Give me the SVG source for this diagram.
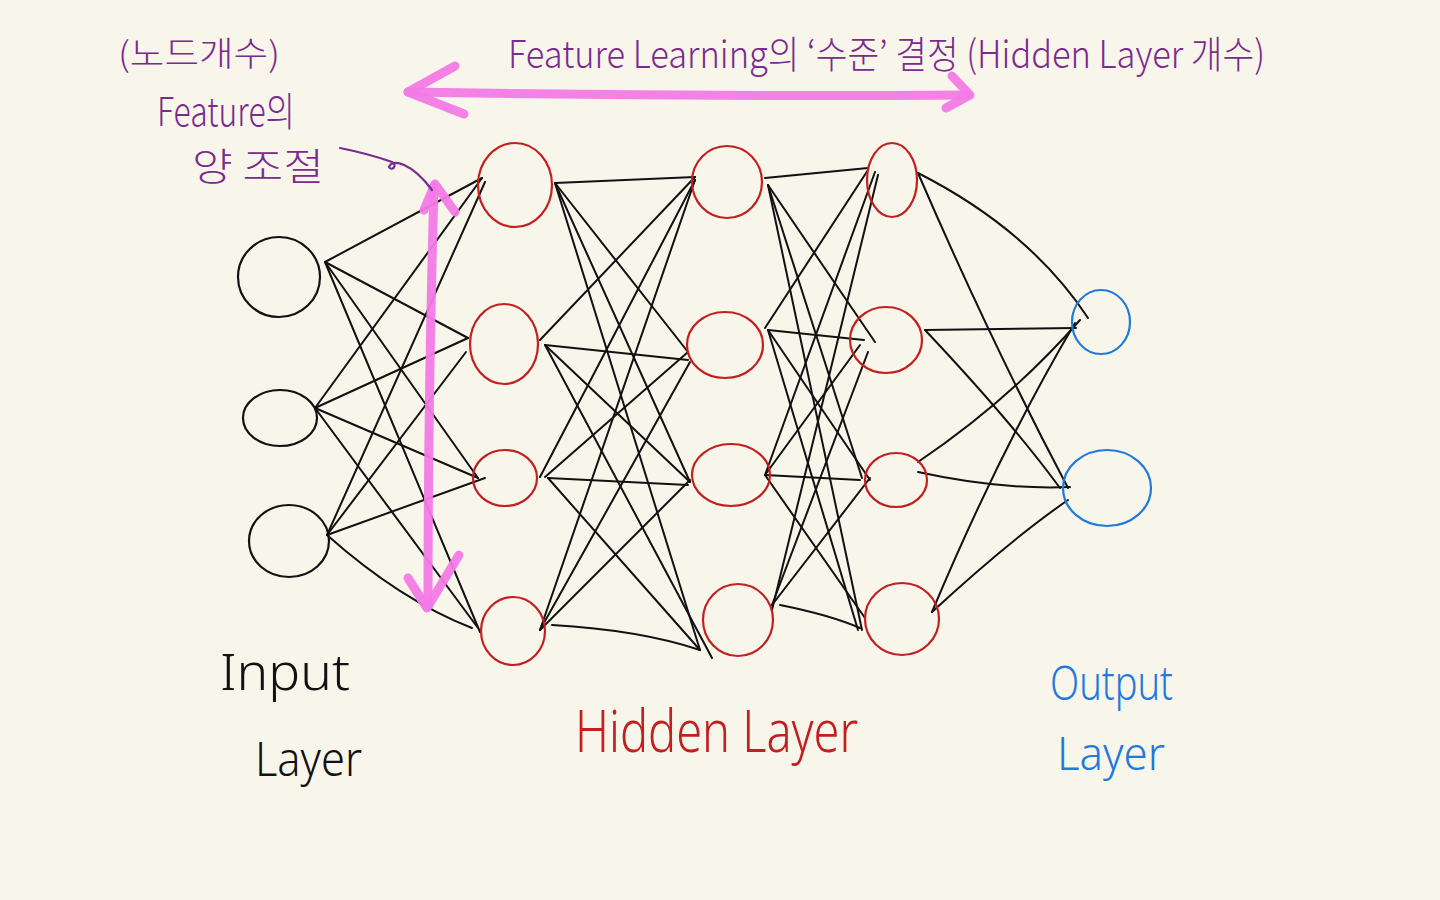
<svg xmlns="http://www.w3.org/2000/svg" width="1440" height="900" viewBox="0 0 1440 900">
<style>
.bg{fill:#f8f5eb}
.edge{fill:none;stroke:#111;stroke-width:2;stroke-linecap:round}
.in{fill:none;stroke:#111;stroke-width:2.2}
.hid{fill:none;stroke:#c21f1f;stroke-width:2.2}
.out{fill:none;stroke:#1f7ad9;stroke-width:2.2}
.pink{fill:none;stroke:#f27ae6;stroke-width:9;stroke-linecap:round;stroke-linejoin:round;opacity:0.95}
.note{fill:#7b2a8e;font-family:"Noto Sans CJK KR","Noto Sans",sans-serif;font-weight:300}
.lblk{fill:#111;font-family:"Noto Sans","Liberation Sans",sans-serif;font-weight:300}
.lred{fill:#c21f1f;font-family:"Noto Sans","Liberation Sans",sans-serif;font-weight:300}
.lblue{fill:#1f7ad9;font-family:"Noto Sans","Liberation Sans",sans-serif;font-weight:300}
</style>
<rect class="bg" x="0" y="0" width="1440" height="900"/>

<g id="connectors">
<path class="edge" d="M325,262 L482,178"/>
<path class="edge" d="M325,262 L468,338"/>
<path class="edge" d="M325,262 L478,478"/>
<path class="edge" d="M325,262 L480,632"/>
<path class="edge" d="M315,408 L482,178"/>
<path class="edge" d="M315,408 L468,338"/>
<path class="edge" d="M315,408 L478,478"/>
<path class="edge" d="M315,408 L478,628"/>
<path class="edge" d="M327,535 L485,182"/>
<path class="edge" d="M327,535 L466,352"/>
<path class="edge" d="M327,535 L485,478"/>
<path class="edge" d="M327,535 Q400,600 472,628"/>
<path class="edge" d="M555,183 L695,177"/>
<path class="edge" d="M555,183 L688,352"/>
<path class="edge" d="M555,183 L690,482"/>
<path class="edge" d="M555,183 L700,650"/>
<path class="edge" d="M540,340 L695,177"/>
<path class="edge" d="M545,345 L688,360"/>
<path class="edge" d="M545,345 L690,482"/>
<path class="edge" d="M545,345 L712,658"/>
<path class="edge" d="M540,477 L695,180"/>
<path class="edge" d="M545,477 L688,352"/>
<path class="edge" d="M548,478 L688,485"/>
<path class="edge" d="M548,478 L700,650"/>
<path class="edge" d="M540,630 L695,180"/>
<path class="edge" d="M540,630 L690,362"/>
<path class="edge" d="M540,630 L690,480"/>
<path class="edge" d="M552,625 Q640,630 700,650"/>
<path class="edge" d="M765,178 L868,168"/>
<path class="edge" d="M768,185 L875,342"/>
<path class="edge" d="M768,185 L862,478"/>
<path class="edge" d="M768,185 L862,630"/>
<path class="edge" d="M765,328 L868,170"/>
<path class="edge" d="M768,330 L864,340"/>
<path class="edge" d="M768,330 L870,480"/>
<path class="edge" d="M768,330 L858,630"/>
<path class="edge" d="M765,475 L875,172"/>
<path class="edge" d="M765,475 L860,345"/>
<path class="edge" d="M765,475 L860,480"/>
<path class="edge" d="M765,475 L865,618"/>
<path class="edge" d="M772,610 L878,175"/>
<path class="edge" d="M772,605 L868,352"/>
<path class="edge" d="M772,605 L870,478"/>
<path class="edge" d="M780,605 Q830,615 860,628"/>
<path class="edge" d="M918,173 Q1030,230 1088,318"/>
<path class="edge" d="M918,173 Q990,340 1068,488"/>
<path class="edge" d="M925,330 L1076,328"/>
<path class="edge" d="M925,330 Q1010,420 1060,488"/>
<path class="edge" d="M918,462 Q1010,400 1080,320"/>
<path class="edge" d="M918,472 Q1000,490 1070,487"/>
<path class="edge" d="M932,612 Q1000,450 1075,323"/>
<path class="edge" d="M932,612 Q1010,540 1068,500"/>
</g>

<g id="input-1"><ellipse class="in" cx="279" cy="277" rx="41" ry="40"/></g>
<g id="input-2"><ellipse class="in" cx="280" cy="418" rx="37" ry="28"/></g>
<g id="input-3"><ellipse class="in" cx="289" cy="541" rx="40" ry="36"/></g>

<g id="hidden1-1"><ellipse class="hid" cx="515" cy="185" rx="37" ry="42"/></g>
<g id="hidden1-2"><ellipse class="hid" cx="504" cy="344" rx="34" ry="40"/></g>
<g id="hidden1-3"><ellipse class="hid" cx="505" cy="478" rx="32" ry="28"/></g>
<g id="hidden1-4"><ellipse class="hid" cx="513" cy="631" rx="32" ry="34"/></g>

<g id="hidden2-1"><ellipse class="hid" cx="727" cy="182" rx="35" ry="36"/></g>
<g id="hidden2-2"><ellipse class="hid" cx="725" cy="345" rx="38" ry="33"/></g>
<g id="hidden2-3"><ellipse class="hid" cx="731" cy="475" rx="39" ry="31"/></g>
<g id="hidden2-4"><ellipse class="hid" cx="738" cy="620" rx="35" ry="36"/></g>

<g id="hidden3-1"><ellipse class="hid" cx="892" cy="180" rx="25" ry="37"/></g>
<g id="hidden3-2"><ellipse class="hid" cx="886" cy="340" rx="36" ry="33"/></g>
<g id="hidden3-3"><ellipse class="hid" cx="896" cy="480" rx="31" ry="27"/></g>
<g id="hidden3-4"><ellipse class="hid" cx="902" cy="619" rx="37" ry="36"/></g>

<g id="output-1"><ellipse class="out" cx="1101" cy="322" rx="29" ry="32"/></g>
<g id="output-2"><ellipse class="out" cx="1107" cy="488" rx="44" ry="38"/></g>

<g id="depth-arrow">
<path class="pink" d="M408,92 Q690,97 968,95"/>
<path class="pink" d="M455,66 L408,92 L464,114"/>
<path class="pink" d="M952,76 L970,95 L946,108"/>
</g>
<g id="width-arrow">
<path class="pink" d="M434,186 Q428,400 428,606"/>
<path class="pink" d="M424,210 L435,184 L455,212"/>
<path class="pink" d="M408,578 L427,608 L459,555"/>
</g>
<g id="pointer">
<path d="M340,148 C360,152 378,157 392,162 C398,165 392,172 389,167 C392,158 412,163 432,190" fill="none" stroke="#7b2a8e" stroke-width="2.2" stroke-linecap="round"/>
</g>

<g id="annotations">
<text class="note" x="118" y="66" font-size="34" textLength="162" lengthAdjust="spacingAndGlyphs">(노드개수)</text>
<text class="note" x="157" y="126" font-size="40" textLength="138" lengthAdjust="spacingAndGlyphs">Feature의</text>
<text class="note" x="192" y="180" font-size="38" textLength="132" lengthAdjust="spacingAndGlyphs">양 조절</text>
<text class="note" x="508" y="68" font-size="38" textLength="757" lengthAdjust="spacingAndGlyphs">Feature Learning의 ‘수준’ 결정 (Hidden Layer 개수)</text>
</g>
<g id="labels">
<text class="lblk" x="220" y="690" font-size="50" textLength="130" lengthAdjust="spacingAndGlyphs">Input</text>
<text class="lblk" x="255" y="776" font-size="48" textLength="107" lengthAdjust="spacingAndGlyphs">Layer</text>
<text class="lred" x="575" y="752" font-size="58" textLength="283" lengthAdjust="spacingAndGlyphs">Hidden Layer</text>
<text class="lblue" x="1050" y="700" font-size="48" textLength="123" lengthAdjust="spacingAndGlyphs">Output</text>
<text class="lblue" x="1057" y="770" font-size="46" textLength="108" lengthAdjust="spacingAndGlyphs">Layer</text>
</g>
</svg>
